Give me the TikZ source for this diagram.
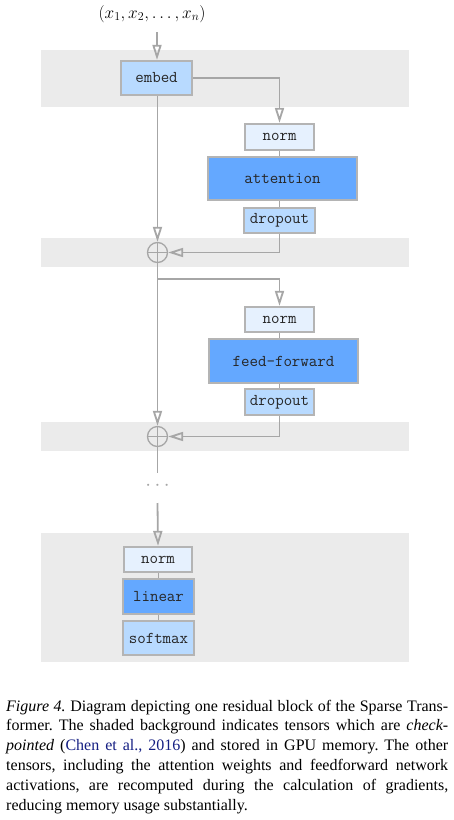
\documentclass[tikz,border=0pt]{standalone}
\usepackage[no-math]{fontspec}
\setmainfont{Liberation Serif}
\usetikzlibrary{arrows.meta}
\definecolor{bandc}{HTML}{EBEBEB}
\definecolor{edgec}{HTML}{A6A6A6}
\definecolor{boxline}{HTML}{B4B4B4}
\definecolor{lightblue}{HTML}{B8DAFF}
\definecolor{paleblue}{HTML}{E6F1FE}
\definecolor{midblue}{HTML}{64A8FF}
\definecolor{citec}{RGB}{20,30,130}
\tikzset{
  tbox/.style={draw=boxline, line width=1.8pt, inner sep=0pt,
    font=\ttfamily\fontsize{16.5}{18}\selectfont, text=black!85},
  arr/.style={draw=edgec, line width=1.8pt, -{Triangle[open,length=15pt,width=9pt]}},
  conn/.style={draw=edgec, line width=1.8pt},
  link/.style={draw=edgec, line width=1pt},
  plusnode/.style={circle, draw=edgec, line width=1.3pt, minimum size=20pt, inner sep=0pt},
  band/.style={fill=bandc, draw=none},
  capline/.style={anchor=base west, inner sep=0pt, font=\fontsize{16}{19.8}\selectfont}
}
\begin{document}
\frenchspacing
\begin{tikzpicture}[x=1pt,y=-1pt]
\useasboundingbox (0,0) rectangle (453,820);
% bands
\fill[band] (41,50) rectangle (409,107);
\fill[band] (41,238) rectangle (409,267);
\fill[band] (41,422) rectangle (409,451);
\fill[band] (41,533) rectangle (409,662);

% input
\node[inner sep=0pt, font=\fontsize{18}{20}\selectfont] (input) at (152,14) {$(x_1, x_2, \ldots, x_n)$};
\coordinate (inbot) at (157,32);

% nodes
\node[tbox, fill=lightblue, minimum width=71.4pt, minimum height=34.4pt] (embed) at (156.5,78) {embed};
\node[tbox, fill=paleblue, minimum width=69.4pt, minimum height=26.4pt] (norm1) at (279.5,137) {norm};
\node[tbox, fill=midblue, minimum width=149.4pt, minimum height=43.4pt] (att) at (282.5,178.5) {attention};
\node[tbox, fill=lightblue, minimum width=70.4pt, minimum height=25.4pt] (drop1) at (279.5,220.5) {dropout};
\node[plusnode] (plus1) at (157.5,252.5) {};

\node[tbox, fill=paleblue, minimum width=69.4pt, minimum height=25.4pt] (norm2) at (279.5,319.5) {norm};
\node[tbox, fill=midblue, minimum width=149.4pt, minimum height=44.4pt] (ff) at (283.5,361) {feed-forward};
\node[tbox, fill=lightblue, minimum width=69.4pt, minimum height=26.4pt] (drop2) at (279.5,402) {dropout};
\node[plusnode] (plus2) at (157.5,436.5) {};

\node[tbox, fill=paleblue, minimum width=68.4pt, minimum height=25.4pt] (norm3) at (158,559.5) {norm};
\node[tbox, fill=midblue, minimum width=71.4pt, minimum height=35.4pt] (linear) at (158.5,596.5) {linear};
\node[tbox, fill=lightblue, minimum width=71.4pt, minimum height=34.4pt] (softmax) at (158.5,638) {softmax};

\node[inner sep=0pt, text=edgec, font=\fontsize{22}{24}\selectfont] (dots) at (157.5,486) {$\cdots$};

\coordinate (br1) at (157.5,279);
\coordinate (end1) at (157.5,473);
\coordinate (start2) at (157.5,503);

% plus signs
\foreach \p in {plus1,plus2}{
  \draw[edgec, line width=1.3pt] (\p.north) -- (\p.south) (\p.west) -- (\p.east);
}

% connectors
\draw[arr] (inbot) -- (inbot |- embed.north);
\draw[arr] (embed.east) -| (norm1.north);
\draw[link] (norm1.south) -- (norm1.south |- att.north);
\draw[link] (drop1.north) -- (drop1.north |- att.south);
\draw[arr] (plus1.north |- embed.south) -- (plus1.north);
\draw[arr] (drop1.south) |- (plus1.east);

\draw[arr] (plus1.south) -- (plus2.north);
\draw[arr] (br1) -| (norm2.north);
\draw[link] (norm2.south) -- (norm2.south |- ff.north);
\draw[link] (drop2.north) -- (drop2.north |- ff.south);
\draw[arr] (drop2.south) |- (plus2.east);
\draw[conn] (plus2.south) -- (end1);

\draw[arr] (start2) -- (norm3.north);
\draw[link] (norm3.south) -- (norm3.south |- linear.north);
\draw[link] (softmax.north) -- (softmax.north |- linear.south);

% caption
\node[capline] (cap1) at (6,711) {\makebox[442pt][s]{\textit{Figure 4.} Diagram depicting one residual block of the Sparse Trans-}};
\node[capline] (cap2) at (6,730.8) {\makebox[442pt][s]{former. The shaded background indicates tensors which are \textit{check-}}};
\node[capline] (cap3) at (6,750.6) {\makebox[442pt][s]{\textit{pointed} ({\color{citec}Chen et al., 2016}) and stored in GPU memory. The other}};
\node[capline] (cap4) at (6,770.4) {\makebox[442pt][s]{tensors, including the attention weights and feedforward network}};
\node[capline] (cap5) at (6,790.2) {\makebox[442pt][s]{activations, are recomputed during the calculation of gradients,}};
\node[capline] (cap6) at (6,810) {reducing memory usage substantially.};
\end{tikzpicture}
\end{document}
